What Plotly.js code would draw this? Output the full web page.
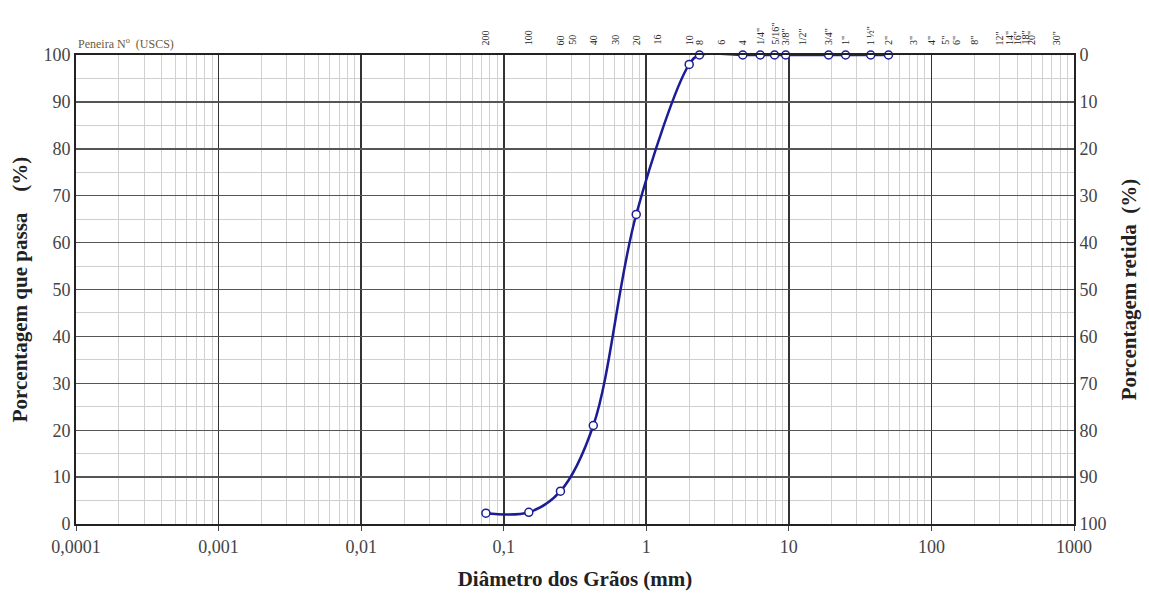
<!DOCTYPE html>
<html><head><meta charset="utf-8">
<script src="https://cdn.plot.ly/plotly-3.0.1.min.js"></script>
<style>body{margin:0;background:#fff}#c{width:1149px;height:595px}</style>
</head><body><div id="c"></div>
<script>
// Data: grain size distribution (passing %)
const diameters = [0.075, 0.15, 0.25, 0.425, 0.85, 2.0, 2.36, 4.75, 6.3, 7.94, 9.5, 19, 25, 37.5, 50];
const passing   = [2.3, 2.5, 7, 21, 66, 98, 100, 100, 100, 100, 100, 100, 100, 100, 100];

const sieveLabels = ['200','100','60','50','40','30','20','16','10','8','6','4','1/4"','5/16"','3/8"','1/2"','3/4"','1"','1 ½"','2"','3"','4"','5"','6"','8"','12"','14"','16"','18"','20"','30"'];
const sieveSizes  = [0.075,0.15,0.25,0.3,0.425,0.6,0.85,1.18,2.0,2.36,3.35,4.75,6.3,7.94,9.5,12.5,19,25,37.5,50,75,100,125,150,200,300,350,400,450,500,750];

const xTickVals = [0.0001,0.001,0.01,0.1,1,10,100,1000];
const xTickText = ['0,0001','0,001','0,01','0,1','1','10','100','1000'];
const yTickVals = [0,10,20,30,40,50,60,70,80,90,100];

const retained = passing.map(v => 100 - v);

const serif = 'Liberation Serif, Times New Roman, serif';
const traces = [
  {x: diameters, y: passing, type:'scatter', mode:'lines+markers',
   line:{color:'#1c1c96', width:2.5, shape:'spline', smoothing:1},
   marker:{symbol:'circle', size:8, color:'#ffffff', line:{color:'#1c1c96', width:1.5}},
   hoverinfo:'skip', cliponaxis:false},
  {x: diameters, y: retained, yaxis:'y2', type:'scatter', mode:'markers',
   marker:{opacity:0}, hoverinfo:'skip', showlegend:false}
];

const annotations = sieveLabels.map((t,i)=>({
  x: Math.log10(sieveSizes[i]), xref:'x', y:1, yref:'paper',
  yanchor:'bottom', xanchor:'center', yshift:8,
  text:t, textangle:-90, showarrow:false,
  font:{family:serif, size:10, color:'#222'}
}));
annotations.push({x:0, xref:'paper', y:1, yref:'paper', xanchor:'left', yanchor:'bottom', yshift:2, xshift:0,
  text:'Peneira N<sup>o</sup>  (USCS)', showarrow:false, font:{family:serif, size:12, color:'#6b5a3a'}});

const layout = {
  width:1149, height:595,
  margin:{l:76, r:75, t:55, b:71},
  paper_bgcolor:'#fff', plot_bgcolor:'#fff',
  showlegend:false,
  xaxis:{type:'log', range:[-4,3], tickvals:xTickVals, ticktext:xTickText,
    showgrid:true, gridcolor:'#333', gridwidth:1.6,
    minor:{dtick:'D1', showgrid:true, gridcolor:'#d0d0d0', gridwidth:1, ticks:''},
    ticks:'outside', ticklen:5, tickcolor:'#444',
    showline:true, linecolor:'#222', linewidth:2, mirror:true,
    zeroline:false,
    tickfont:{family:serif, size:18, color:'#444'},
    title:{text:'<b>Diâmetro dos Grãos (mm)</b>', font:{family:serif, size:21, color:'#222'}, standoff:16}
  },
  yaxis:{range:[0,100], tickvals:yTickVals,
    showgrid:true, gridcolor:'#555', gridwidth:1.4,
    minor:{dtick:5, showgrid:true, gridcolor:'#cfcfcf', gridwidth:1, ticks:''},
    ticks:'', showline:true, linecolor:'#222', linewidth:2, zeroline:false,
    tickfont:{family:serif, size:18, color:'#444'},
    title:{text:'<b>Porcentagem que passa    (%)</b>', font:{family:serif, size:21, color:'#222'}, standoff:10}
  },
  yaxis2:{range:[100,0], tickvals:yTickVals, overlaying:'y', side:'right',
    showgrid:false, ticks:'', showline:true, linecolor:'#222', linewidth:2, zeroline:false,
    tickfont:{family:serif, size:18, color:'#444'},
    title:{text:'<b>Porcentagem retida  (%)</b>', font:{family:serif, size:21, color:'#222'}, standoff:16}
  },
  annotations: annotations
};
Plotly.newPlot('c', traces, layout, {displayModeBar:false, staticPlot:true});
</script></body></html>
